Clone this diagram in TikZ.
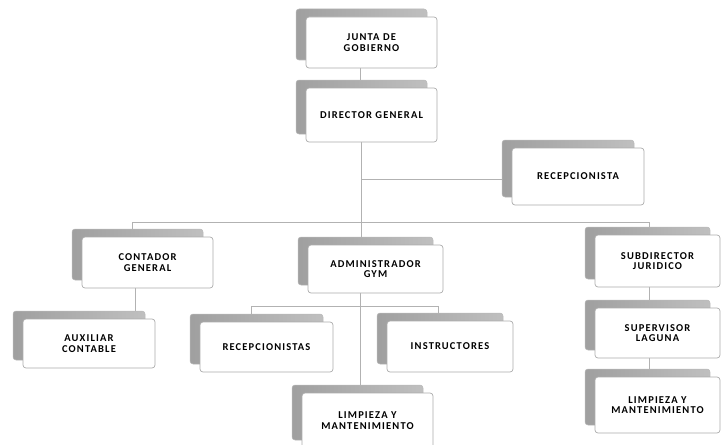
\documentclass[tikz,border=0pt]{standalone}
\usepackage{fontspec}
\setmainfont{Carlito}[LetterSpace=11]
\usetikzlibrary{shadows,backgrounds,calc}
\begin{document}
\begin{tikzpicture}[x=1pt,y=-1pt,
  box/.style={draw=gray!65, line width=0.7pt, fill=white, rounded corners=3pt,
    align=center, inner sep=2pt,
    font=\fontsize{10.5}{10.5}\selectfont\bfseries, text=black,
    general shadow={shadow xshift=-10pt, shadow yshift=8pt,
      left color=gray!75, right color=gray!50, draw=gray!55, line width=0.5pt}},
  conn/.style={draw=gray!60, line width=0.8pt}]
\useasboundingbox (0,0) rectangle (722,444);
\node[box, minimum width=131pt, minimum height=51pt] (junta) at (371.5,42.5) {JUNTA DE\\GOBIERNO};
\node[box, minimum width=131pt, minimum height=54pt] (director) at (371.5,115) {DIRECTOR GENERAL};
\node[box, minimum width=132pt, minimum height=57pt] (recep) at (578,176.5) {RECEPCIONISTA};
\node[box, minimum width=131pt, minimum height=51pt] (contador) at (147.5,262.5) {CONTADOR\\GENERAL};
\node[box, minimum width=132pt, minimum height=49pt] (auxiliar) at (89,343.5) {AUXILIAR\\CONTABLE};
\node[box, minimum width=135pt, minimum height=48pt] (admin) at (375.5,269) {ADMINISTRADOR\\GYM};
\node[box, minimum width=133pt, minimum height=50pt] (recepcionistas) at (266.5,347) {RECEPCIONISTAS};
\node[box, minimum width=126pt, minimum height=51pt] (instructores) at (450,346.5) {INSTRUCTORES};
\node[box, minimum width=131pt, minimum height=55pt] (limpieza1) at (367.5,420.5) {LIMPIEZA Y\\MANTENIMIENTO};
\node[box, minimum width=125pt, minimum height=52pt] (subdir) at (657.5,261) {SUBDIRECTOR\\JURIDICO};
\node[box, minimum width=125pt, minimum height=50pt] (supervisor) at (657.5,333) {SUPERVISOR\\LAGUNA};
\node[box, minimum width=125pt, minimum height=56pt] (limpieza2) at (657.5,405) {LIMPIEZA Y\\MANTENIMIENTO};
\coordinate (barM) at (361,222);
\coordinate (barL) at (132,222);
\coordinate (barR) at (649,222);
\coordinate (gymM) at (360,306);
\coordinate (gymL) at (251,306);
\coordinate (gymR) at (438,306);
\begin{scope}[on background layer]
\draw[conn] ([xshift=-11pt]junta.center) -- ([xshift=-11pt]director.center);
\draw[conn] (barM |- director.center) -- (barM);
\draw[conn] ([yshift=-3pt]recep.center -| barM) -- ([yshift=-3pt]recep.center);
\draw[conn] (barL) -- (barR);
\draw[conn] (barL) -- (barL |- contador.center);
\draw[conn] ([xshift=-12.5pt]contador.center) -- ([xshift=-12.5pt]contador.center |- auxiliar.center);
\draw[conn] (barM) -- (barM |- admin.center);
\draw[conn] (gymL |- recepcionistas.center) -- (gymL) -- (gymR) -- (gymR |- instructores.center);
\draw[conn] (gymM |- admin.center) -- (gymM |- limpieza1.center);
\draw[conn] (barR) -- (barR |- subdir.center);
\draw[conn] (barR |- subdir.center) -- (barR |- supervisor.center);
\draw[conn] (barR |- supervisor.center) -- (barR |- limpieza2.center);
\end{scope}
\end{tikzpicture}
\end{document}
